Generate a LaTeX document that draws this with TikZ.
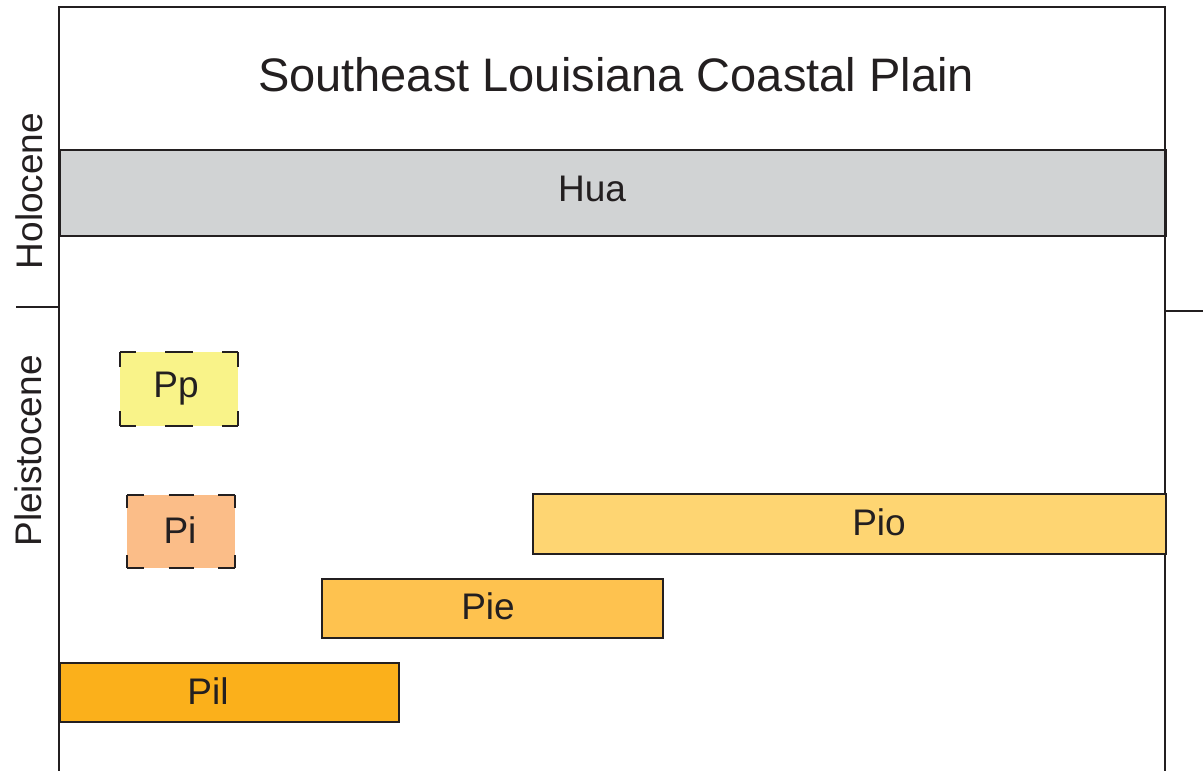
\documentclass[tikz,border=0pt]{standalone}
\usepackage{fontspec}
\setmainfont{Liberation Sans}
\usetikzlibrary{calc}
\definecolor{ink}{HTML}{231F20}
\definecolor{huafill}{HTML}{D1D3D4}
\definecolor{ppfill}{HTML}{F9F389}
\definecolor{pifill}{HTML}{FBBD88}
\definecolor{piofill}{HTML}{FED572}
\definecolor{piefill}{HTML}{FEC24F}
\definecolor{pilfill}{HTML}{FBB01B}
\begin{document}
\begin{tikzpicture}[x=1pt,y=-1pt,
  frameline/.style={draw=ink,line width=2pt},
  unitbox/.style={draw=ink,line width=2pt,rectangle,inner sep=0pt,anchor=north west},
  softbox/.style={rectangle,inner sep=0pt,anchor=north west},
  dashline/.style={draw=ink,line width=2pt},
  lbl/.style={text=ink,inner sep=0pt,anchor=base,font=\fontsize{37}{44}\selectfont},
  ttl/.style={text=ink,inner sep=0pt,anchor=base,font=\fontsize{47}{56}\selectfont}]
\useasboundingbox (0,0) rectangle (1203,771);
\fill[white] (0,0) rectangle (1203,771);
% frame coordinates
\coordinate (tl) at (59,7);
\coordinate (tr) at (1165,7);
\coordinate (bl) at (59,771);
\coordinate (br) at (1165,771);
% Hua band
\node[unitbox,fill=huafill,minimum width=1106pt,minimum height=86pt] (hua) at (59,149) {};
\draw[frameline] (bl) -- (tl) -- (tr) -- (br);
% ticks
\coordinate (lt0) at (16,307);
\coordinate (lt1) at (59,307);
\coordinate (rt0) at (1165,311);
\coordinate (rt1) at (1203,311);
\draw[frameline] (lt0) -- (lt1);
\draw[frameline] (rt0) -- (rt1);
% title
\node[ttl] (title) at (616,91) {Southeast Louisiana Coastal Plain};
\node[lbl] (hualbl) at (592,201) {Hua};
% epochs
\node[lbl,rotate=90] (holo) at (42,191) {Holocene};
\node[lbl,rotate=90] (pleis) at (41,451) {Pleistocene};
% solid boxes
\node[unitbox,fill=piofill,minimum width=633pt,minimum height=60pt] (pio) at (532,493) {};
\node[unitbox,fill=piefill,minimum width=341pt,minimum height=59pt] (pie) at (321,578) {};
\node[unitbox,fill=pilfill,minimum width=339pt,minimum height=59pt] (pil) at (59,662) {};
\node[lbl] (piolbl) at (879,535) {Pio};
\node[lbl] (pielbl) at (488,619) {Pie};
\node[lbl] (pillbl) at (208,704) {Pil};
% dashed boxes
\node[softbox,fill=ppfill,minimum width=118pt,minimum height=74pt] (pp) at (120,352) {};
\draw[dashline,dash pattern=on 16pt off 29pt on 28pt off 29pt on 16pt off 100pt] (pp.north west) -- (pp.north east);
\draw[dashline,dash pattern=on 16pt off 29pt on 28pt off 29pt on 16pt off 100pt] (pp.south west) -- (pp.south east);
\draw[dashline,dash pattern=on 15pt off 44pt on 15pt off 100pt] (pp.north west) -- (pp.south west);
\draw[dashline,dash pattern=on 15pt off 44pt on 15pt off 100pt] (pp.north east) -- (pp.south east);
\node[lbl] (pplbl) at (176,397) {Pp};
\node[softbox,fill=pifill,minimum width=108pt,minimum height=73pt] (pi) at (127,495) {};
\draw[dashline,dash pattern=on 17pt off 24.5pt on 25pt off 24.5pt on 17pt off 100pt] (pi.north west) -- (pi.north east);
\draw[dashline,dash pattern=on 17pt off 24.5pt on 25pt off 24.5pt on 17pt off 100pt] (pi.south west) -- (pi.south east);
\draw[dashline,dash pattern=on 13pt off 47pt on 13pt off 100pt] (pi.north west) -- (pi.south west);
\draw[dashline,dash pattern=on 13pt off 47pt on 13pt off 100pt] (pi.north east) -- (pi.south east);
\node[lbl] (pilbl2) at (180,543) {Pi};
\end{tikzpicture}
\end{document}
